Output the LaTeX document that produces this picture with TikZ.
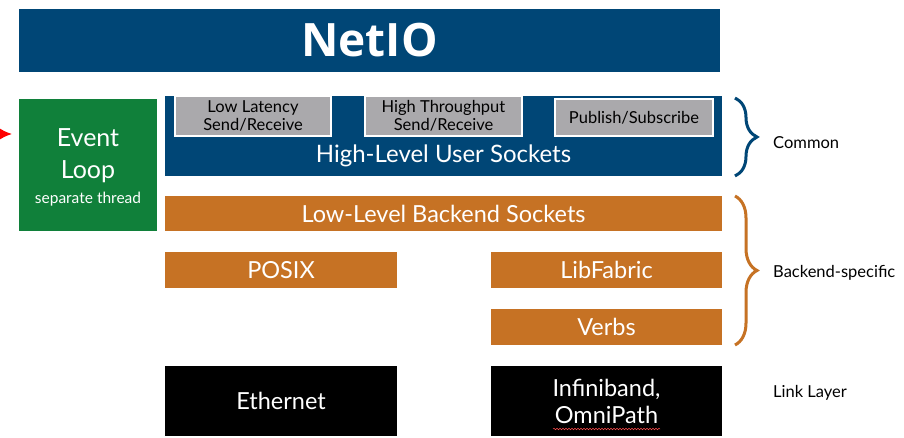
\documentclass[tikz,border=0pt]{standalone}
\usepackage{fontspec}
\setmainfont{Lato}
\newfontfamily\titlefont{Open Sans}
\usetikzlibrary{decorations.pathreplacing,decorations.pathmorphing,arrows.meta}
\definecolor{nblue}{RGB}{0,70,118}
\definecolor{ngreen}{RGB}{16,128,58}
\definecolor{norange}{RGB}{198,114,36}
\definecolor{ngray}{RGB}{170,169,172}
\tikzset{
  box/.style={anchor=north west, inner sep=0pt, outer sep=0pt, text=white, align=center},
  graybox/.style={box, fill=ngray, draw=white, line width=1.5pt, text=black, font=\fontsize{16.5}{17.5}\selectfont},
  orangebox/.style={box, fill=norange, font=\fontsize{23.5}{25}\selectfont},
  blackbox/.style={box, fill=black, font=\fontsize{23.5}{27}\selectfont},
  bracestyle/.style={decorate, decoration={brace, amplitude=22pt, aspect=0.5}, line width=3pt},
  sidelabel/.style={anchor=west, inner sep=0pt, font=\fontsize{16.5}{18}\selectfont}
}
\begin{document}
\begin{tikzpicture}[x=1pt,y=-1pt]
\useasboundingbox[fill=white] (0,0) rectangle (904,438);
% title
\node[box, fill=nblue, minimum width=701pt, minimum height=63pt, font=\titlefont\bfseries\fontsize{46}{50}\selectfont] (title) at (19,9) {NetIO};
% event loop
\node[box, fill=ngreen, minimum width=138pt, minimum height=132pt] (evt) at (19,99) {};
\node[text=white, align=center, inner sep=0pt, font=\fontsize{25}{32}\selectfont] (evtt) at (88,156) {Event\\Loop};
\node[text=white, inner sep=0pt, font=\fontsize{15.5}{16}\selectfont] (evts) at (88,199) {separate thread};
\coordinate (redstart) at (-8,134);
\draw[red, line width=1.5pt, -{Latex[length=12pt,width=11pt]}, shorten >=7pt] (redstart) -- (redstart -| evt.west);
% high-level
\node[box, fill=nblue, minimum width=557pt, minimum height=80pt] (hl) at (165,96) {};
\node[text=white, inner sep=0pt, font=\fontsize{24}{26}\selectfont] (hlt) at (443.5,156) {High-Level User Sockets};
\node[graybox, minimum width=156pt, minimum height=40pt] (ll) at (175,96) {Low Latency\\Send/Receive};
\node[graybox, minimum width=157pt, minimum height=40pt] (ht) at (365,96) {High Throughput\\Send/Receive};
\node[graybox, minimum width=158pt, minimum height=37pt] (ps) at (555,99) {Publish/Subscribe};
% backend
\node[orangebox, minimum width=557pt, minimum height=35pt] (lb) at (165,196) {Low-Level Backend Sockets};
\node[orangebox, minimum width=232pt, minimum height=36pt] (posix) at (165,252) {POSIX};
\node[orangebox, minimum width=231pt, minimum height=36pt] (lf) at (491,252) {LibFabric};
\node[orangebox, minimum width=231pt, minimum height=36pt] (verbs) at (491,309) {Verbs};
% link
\node[blackbox, minimum width=232pt, minimum height=70pt] (eth) at (165,366) {Ethernet};
\node[blackbox, minimum width=231pt, minimum height=70pt] (ib) at (491,366) {Infiniband,\\OmniPath};
\draw[red!70, line width=0.5pt, decorate, decoration={snake, amplitude=0.8pt, segment length=3pt}] (553,429) -- (660,429);
% braces
\coordinate (b1t) at (735,98);
\coordinate (b1b) at (735,176);
\coordinate (b2t) at (735,196);
\coordinate (b2b) at (735,345);
\draw[bracestyle, draw=nblue] (b1t) -- (b1b);
\draw[bracestyle, draw=norange] (b2t) -- (b2b);
\node[sidelabel] (common) at (773,143) {Common};
\node[sidelabel] (backend) at (773,273) {Backend-specific};
\node[sidelabel] (link) at (773,393) {Link Layer};
\end{tikzpicture}
\end{document}
